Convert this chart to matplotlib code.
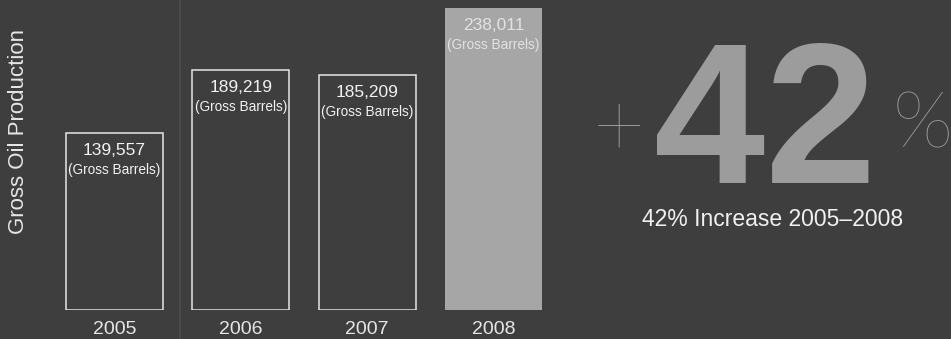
import matplotlib
matplotlib.use("Agg")
import matplotlib.pyplot as plt
from matplotlib.lines import Line2D

years = ["2005", "2006", "2007", "2008"]
barrels = [139557, 189219, 185209, 238011]
value_labels = ["139,557", "189,219", "185,209", "238,011"]
unit_label = "(Gross Barrels)"
headline = "42"
subtitle = "42% Increase 2005\u20132008"

BG = "#3e3e3e"
W, H = 951, 339

plt.rcParams["font.family"] = ["Liberation Sans", "DejaVu Sans"]

fig = plt.figure(figsize=(W / 100, H / 100), dpi=100, facecolor=BG)

# bar area in pixels: x 51..557, y 0..310 from top
ax = fig.add_axes([51.3 / W, 29 / H, 505.3 / W, 310 / H])
ax.set_facecolor("none")
ax.set_xlim(-0.5, 3.5)
ax.set_ylim(0, 244000)

x = list(range(len(years)))
for i, v in enumerate(barrels):
    last = i == len(barrels) - 1
    ax.bar(i, v, width=0.767,
           color="#a6a6a6" if last else "none",
           edgecolor="none" if last else "#e6e6e6",
           linewidth=1.1)
    tc = "#e2e2e2" if last else "#f2f2f2"
    ax.annotate(value_labels[i], (i, v), xytext=(0, -18), textcoords="offset pixels",
                ha="center", va="center", fontsize=12.5, color=tc)
    ax.annotate(unit_label, (i, v), xytext=(0, -37), textcoords="offset pixels",
                ha="center", va="center", fontsize=9.8, color=tc)

ax.set_xticks(x)
ax.set_xticklabels(years, fontsize=14, color="#e6e6e6")
ax.tick_params(axis="x", length=0, pad=8)
ax.set_yticks([])
for s in ax.spines.values():
    s.set_visible(False)

# faint seam in the background
fig.add_artist(Line2D([180 / W, 180 / W], [0, 1], color="#4c4c4c", lw=1.5))

fig.text(19 / W, 1 - 131 / H, "Gross Oil Production", rotation=90,
         ha="center", va="center", fontsize=16, color="#e6e6e6")

# big callout on the right
fig.text(765 / W, 1 - 183 / H, headline, ha="center", va="baseline",
         fontsize=144, fontweight="bold", color="#9c9c9c")
fig.text(619 / W, 1 - 156 / H, "+", ha="center", va="baseline",
         fontsize=65, family=["Lato", "DejaVu Sans"], fontweight="light", color="#a4a4a4")
fig.text(893 / W, 1 - 147 / H, "%", ha="left", va="baseline",
         fontsize=57, family=["Lato", "DejaVu Sans"], fontweight="light", color="#a4a4a4")
fig.text(773 / W, 1 - 226 / H, subtitle, ha="center", va="baseline",
         fontsize=16.5, color="#f0f0f0")

fig.savefig("out.png", dpi=100, facecolor=BG)
